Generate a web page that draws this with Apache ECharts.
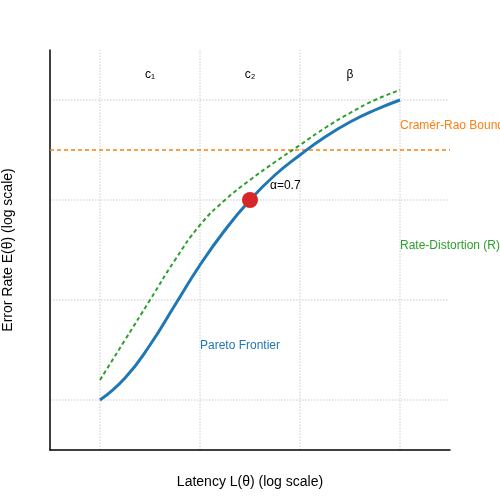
<!DOCTYPE html><html><head><meta charset="utf-8"><script src="https://cdn.jsdelivr.net/npm/echarts@6/dist/echarts.min.js"></script></head><body style="margin:0"><div id="c" style="width:500px;height:500px"></div><script>
const paretoX=[0.5,0.75,1,1.25,1.5,1.75,2,2.25,2.5,2.75,3,3.25,3.5];
const paretoY=[0.5,0.72,1.05,1.45,1.85,2.2,2.5,2.75,2.95,3.13,3.28,3.4,3.5];
const rdY=[0.7,1.1,1.5,1.9,2.25,2.5,2.7,2.88,3.05,3.22,3.37,3.5,3.6];
const boundY=3;
const gridVals=[0.5,1.5,2.5,3.5];
const topLabels=[[1,'c₁'],[2,'c₂'],[3,'β']];
const gl={type:'dotted',color:'#ddd',width:1.5,opacity:1};
const font='"Liberation Sans",Arial,sans-serif';
const txt=(x,y,t,c,al)=>({value:[x,y],label:{show:true,formatter:t,color:c,fontSize:12,align:al||'center',verticalAlign:'middle',position:'inside',fontFamily:font,opacity:1}});
const ch=echarts.init(document.getElementById('c'));
ch.setOption({animation:false,
grid:{left:50,right:50,top:50,bottom:50,containLabel:false,outerBoundsMode:'none'},
xAxis:{type:'value',min:0,max:4,name:'Latency L(θ) (log scale)',nameLocation:'middle',nameGap:25,nameTextStyle:{fontSize:14,color:'#000',fontFamily:font},axisLine:{lineStyle:{color:'#000',width:1.5}},axisTick:{show:false},axisLabel:{show:false},splitLine:{show:false}},
yAxis:{type:'value',min:0,max:4,name:'Error Rate E(θ) (log scale)',nameLocation:'middle',nameGap:35,nameTextStyle:{fontSize:14,color:'#000',fontFamily:font},axisLine:{show:true,lineStyle:{color:'#000',width:1.5}},axisTick:{show:false},axisLabel:{show:false},splitLine:{show:false}},
series:[
{type:'line',z:0,data:[],markLine:{z:0,silent:true,symbol:'none',label:{show:false},lineStyle:gl,emphasis:{disabled:true},data:[...gridVals.map(v=>[{coord:[v,0]},{coord:[v,4]}]),...gridVals.map(v=>[{coord:[0,v]},{coord:[3.98,v]}])]}},
{type:'line',z:2,data:[[0,boundY],[4,boundY]],symbol:'none',lineStyle:{color:'#ff7f0e',type:[4,3],width:1.5}},
{type:'line',z:3,data:paretoX.map((x,i)=>[x,rdY[i]]),symbol:'none',smooth:true,lineStyle:{color:'#2ca02c',type:[4,3],width:2}},
{type:'line',z:4,data:paretoX.map((x,i)=>[x,paretoY[i]]),symbol:'none',smooth:true,lineStyle:{color:'#1f77b4',width:3}},
{type:'scatter',z:10,data:[[2,2.5]],symbolSize:16,itemStyle:{color:'#d62728',opacity:1}},
{type:'scatter',z:11,symbolSize:0,data:[...topLabels.map(([x,t])=>txt(x,3.75,t,'#000')),txt(2.2,2.64,'α=0.7','#000','left'),txt(3.5,3.24,'Cramér-Rao Bound','#ff7f0e','left'),txt(3.5,2.04,'Rate-Distortion (R)','#2ca02c','left'),txt(1.5,1.04,'Pareto Frontier','#1f77b4','left')]}
]});
</script></body></html>
